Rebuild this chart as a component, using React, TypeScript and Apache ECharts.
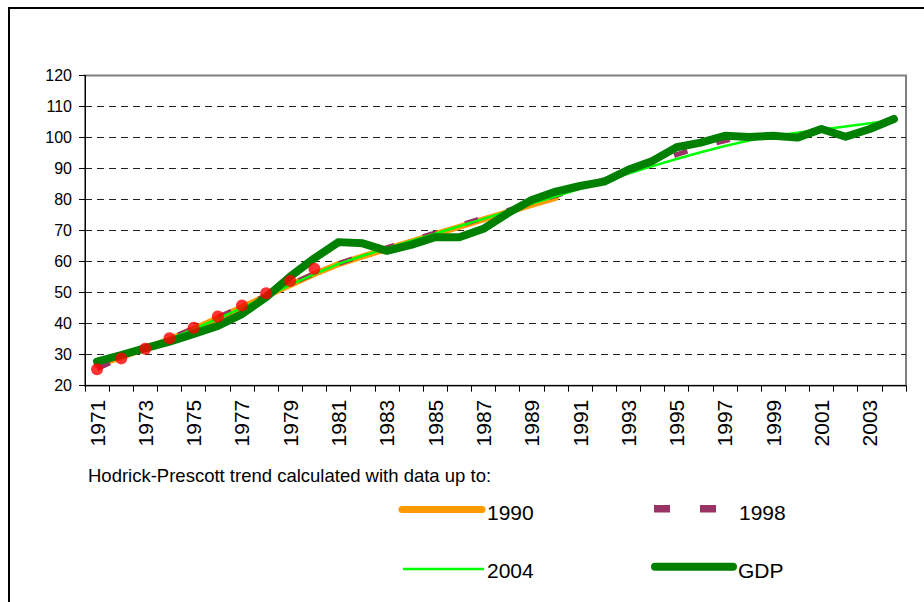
import React, { useEffect, useRef } from "react";
import * as echarts from "echarts";

const years: string[] = [
  "1971","1972","1973","1974","1975","1976","1977","1978","1979","1980",
  "1981","1982","1983","1984","1985","1986","1987","1988","1989","1990",
  "1991","1992","1993","1994","1995","1996","1997","1998","1999","2000",
  "2001","2002","2003","2004",
];

const gdp: number[] = [
  27.8, 29.9, 32.1, 34.2, 36.7, 39.3, 43.1, 48.5, 55.2, 61.1,
  66.3, 65.9, 63.5, 65.4, 67.9, 67.9, 70.6, 75.6, 79.9, 82.6,
  84.4, 85.8, 89.6, 92.5, 96.9, 98.4, 100.6, 100.2, 100.6, 100.0,
  102.8, 100.3, 102.8, 106.0,
];

const trend1990: number[] = [
  26.6, 29.2, 32.0, 35.0, 38.3, 41.8, 45.3, 48.9, 52.5, 56.0,
  59.2, 61.7, 64.1, 66.5, 68.9, 71.2, 73.6, 76.0, 78.3, 80.6,
];

const trend1998: number[] = [
  25.5, 28.9, 32.0, 35.2, 38.5, 42.0, 45.5, 49.1, 52.7, 56.2,
  59.4, 62.0, 64.5, 66.9, 69.3, 71.7, 74.1, 76.5, 78.9, 81.3,
  83.8, 86.5, 89.3, 91.8, 94.5, 97.0, 99.0, 100.8,
];

const trend2004: number[] = [
  27.0, 29.4, 32.1, 35.0, 38.2, 41.6, 45.1, 48.7, 52.5, 56.0,
  59.3, 61.9, 64.3, 66.7, 69.0, 71.4, 73.8, 76.2, 78.7, 81.1,
  83.5, 86.0, 88.4, 90.8, 93.1, 95.3, 97.3, 99.1, 100.5, 101.6,
  102.6, 103.6, 104.6, 105.6,
];

const trend1980Dots: number[] = [25.3, 28.8, 31.9, 35.3, 38.7, 42.3, 45.9, 49.8, 53.8, 57.7];

const yTicks = { min: 20, max: 120, interval: 10 };
const captionText = "Hodrick-Prescott trend calculated with data up to:";
const legendNames = ["1990", "1998", "2004", "GDP"];

const FONT = "Arial, 'Liberation Sans', sans-serif";

export default function App() {
  const ref = useRef<HTMLDivElement>(null);

  useEffect(() => {
    if (!ref.current) return;
    const chart = echarts.init(ref.current, null, { renderer: "svg" });
    const legendText = (text: string, x: number, y: number) => ({
      type: "text",
      x,
      y,
      style: {
        text,
        fill: "#000",
        font: `21px ${FONT}`,
        verticalAlign: "middle",
        align: "left",
      },
    });
    const option: any = {
      animation: false,
      backgroundColor: "#ffffff",
      grid: {
        left: 85,
        right: 18,
        top: 75.6,
        bottom: 216.3,
        show: true,
        borderColor: "#808080",
        borderWidth: 2,
        backgroundColor: "transparent",
        containLabel: false,
      },
      xAxis: {
        type: "category",
        data: years,
        boundaryGap: true,
        axisLine: { show: true, lineStyle: { color: "#000", width: 1 } },
        axisTick: { show: true, interval: 0, length: 6, lineStyle: { color: "#000", width: 1 } },
        axisLabel: {
          rotate: 90,
          interval: 1,
          fontSize: 21,
          margin: 14,
          color: "#000",
          fontFamily: FONT,
        },
        splitLine: { show: false },
      },
      yAxis: {
        type: "value",
        min: yTicks.min,
        max: yTicks.max,
        interval: yTicks.interval,
        axisLine: { show: true, lineStyle: { color: "#000", width: 1 } },
        axisTick: { show: true, length: 6, lineStyle: { color: "#000", width: 1 } },
        axisLabel: { fontSize: 16, margin: 13, color: "#000", fontFamily: FONT },
        splitLine: {
          show: true,
          showMinLine: false,
          showMaxLine: false,
          lineStyle: { color: "#222", width: 1, type: [7, 5] },
        },
      },
      series: [
        {
          name: legendNames[0],
          type: "line",
          data: trend1990,
          showSymbol: false,
          lineStyle: { color: "#FF9900", width: 6, cap: "round", join: "round" },
          z: 2,
        },
        {
          name: legendNames[1],
          type: "line",
          data: trend1998,
          showSymbol: false,
          lineStyle: { color: "#993366", width: 5, type: [14, 30], join: "round" },
          z: 3,
        },
        {
          name: legendNames[2],
          type: "line",
          data: trend2004,
          showSymbol: false,
          lineStyle: { color: "#00FF00", width: 2.5, join: "round" },
          z: 4,
        },
        {
          name: legendNames[3],
          type: "line",
          data: gdp,
          showSymbol: false,
          lineStyle: { color: "#008000", width: 8, cap: "round", join: "round" },
          z: 5,
        },
        {
          name: "1980",
          type: "scatter",
          data: trend1980Dots,
          symbol: "circle",
          symbolSize: 12,
          itemStyle: { color: "#FF0000" },
          z: 6,
        },
      ],
      graphic: [
        {
          type: "rect",
          shape: { x: 9, y: 8, width: 1100, height: 1100 },
          style: { fill: "none", stroke: "#000", lineWidth: 2 },
          silent: true,
          z: 100,
        },
        {
          type: "text",
          x: 88,
          y: 475.5,
          style: {
            text: captionText,
            fill: "#000",
            font: `18.5px ${FONT}`,
            verticalAlign: "middle",
            align: "left",
          },
        },
        // 1990
        {
          type: "line",
          shape: { x1: 402, y1: 509.5, x2: 482, y2: 509.5 },
          style: { stroke: "#FF9900", lineWidth: 7, lineCap: "round" },
        },
        legendText(legendNames[0], 487, 512.7),
        // 1998
        {
          type: "rect",
          shape: { x: 654, y: 505, width: 16, height: 7.5 },
          style: { fill: "#993366" },
        },
        {
          type: "rect",
          shape: { x: 700, y: 505, width: 16, height: 7.5 },
          style: { fill: "#993366" },
        },
        legendText(legendNames[1], 739, 512.7),
        // 2004
        {
          type: "line",
          shape: { x1: 403, y1: 569, x2: 484, y2: 569 },
          style: { stroke: "#00FF00", lineWidth: 2.5 },
        },
        legendText(legendNames[2], 487, 570.7),
        // GDP
        {
          type: "line",
          shape: { x1: 655, y1: 566.7, x2: 733, y2: 566.7 },
          style: { stroke: "#008000", lineWidth: 8, lineCap: "round" },
        },
        legendText(legendNames[3], 738, 570),
      ],
    };
    chart.setOption(option);
    return () => chart.dispose();
  }, []);

  return (
    <div
      ref={ref}
      style={{ position: "fixed", left: 0, top: 0, width: 924, height: 602, background: "#fff" }}
    />
  );
}
